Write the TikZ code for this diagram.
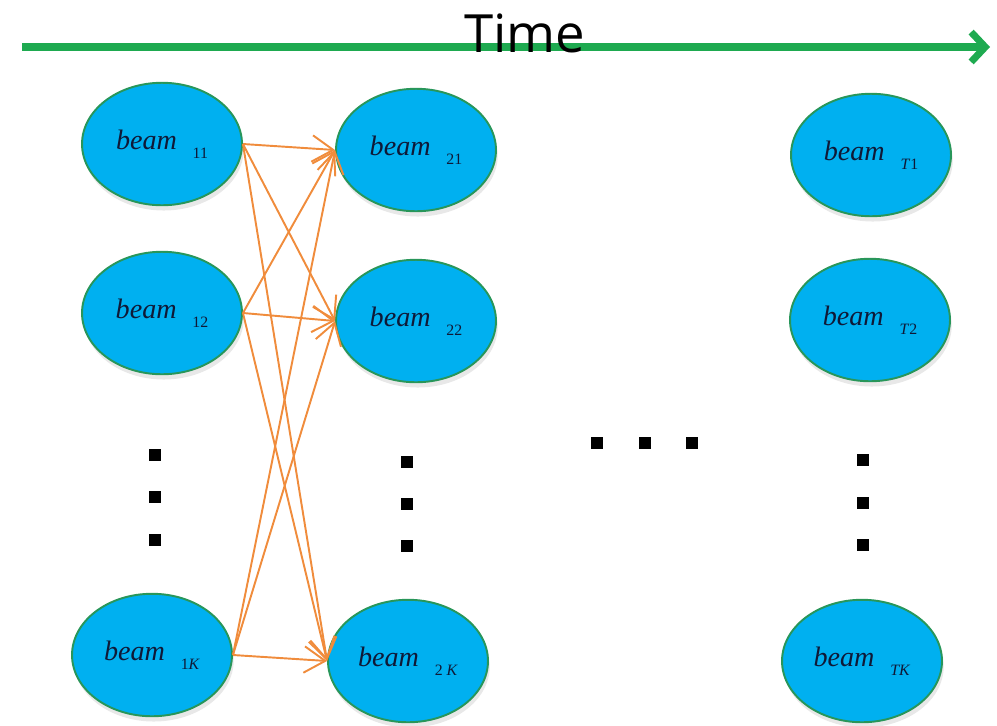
\documentclass[tikz,border=0pt]{standalone}
\usepackage{fontspec}
\setmainfont{Liberation Serif}
\newfontfamily\timefont{Open Sans}
\usetikzlibrary{arrows.meta}
\usetikzlibrary{shapes.geometric}
\usetikzlibrary{shadows}

\definecolor{beamblue}{RGB}{0,176,240}
\definecolor{beamrim}{RGB}{40,150,90}
\definecolor{beamtext}{RGB}{15,25,55}
\definecolor{linkorange}{RGB}{240,140,60}
\definecolor{timegreen}{RGB}{30,170,80}

\newcommand{\beamlabel}[1]{\textit{beam}\hspace{9pt}\raisebox{-5pt}{\fontsize{9}{9}\selectfont #1}}

\begin{document}
\begin{tikzpicture}[x=0.02cm, y=-0.02cm,
  beamnode/.style={ellipse, fill=beamblue, draw=beamrim, line width=1.1pt,
    minimum width=3.2cm, minimum height=2.45cm, inner sep=0pt,
    text=beamtext, font=\fontsize{16}{16}\selectfont,
    drop shadow={opacity=0.18, shadow xshift=1pt, shadow yshift=-3pt}},
  link/.style={draw=linkorange, line width=1.1pt,
    -{Straight Barb[length=12pt,width=15pt]}}]
\useasboundingbox (0,0) rectangle (997,725);

% time axis
\draw[timegreen, line width=4pt, -{Straight Barb[length=8pt,width=17pt]}] (22,47) -- (990,47);
\node[anchor=base, font=\timefont\fontsize{30}{30}\selectfont] (time) at (525,52) {Time};

% first column
\node[beamnode] (b11) at (162,144) {\beamlabel{11}};
\node[beamnode] (b12) at (162,313) {\beamlabel{12}};
\node[beamnode] (b1K) at (152,655) {\beamlabel{1\textit{K}}};

% second column
\node[beamnode] (b21) at (416,150) {\beamlabel{21}};
\node[beamnode] (b22) at (416,321) {\beamlabel{22}};
\node[beamnode] (b2K) at (408,661) {\beamlabel{2 \textit{K}}};

% last column
\node[beamnode] (bT1) at (871,155) {\beamlabel{\textit{T}1}};
\node[beamnode] (bT2) at (870,320) {\beamlabel{\textit{T}2}};
\node[beamnode] (bTK) at (862,661) {\beamlabel{\textit{TK}}};

% transitions
\foreach \s in {11,12,1K}
  \foreach \t in {21,22,2K}
    \draw[link] (b\s.east) -- (b\t.west);

% dots
\foreach \y in {455,497,540}
  \fill (149,\y-6) rectangle ++(12,12);
\foreach \y in {462,504,546}
  \fill (401,\y-6) rectangle ++(12,12);
\foreach \y in {460,503,545}
  \fill (857,\y-6) rectangle ++(12,12);
\foreach \x in {597,645,692}
  \fill (\x-6,437) rectangle ++(12,12);
\end{tikzpicture}
\end{document}
